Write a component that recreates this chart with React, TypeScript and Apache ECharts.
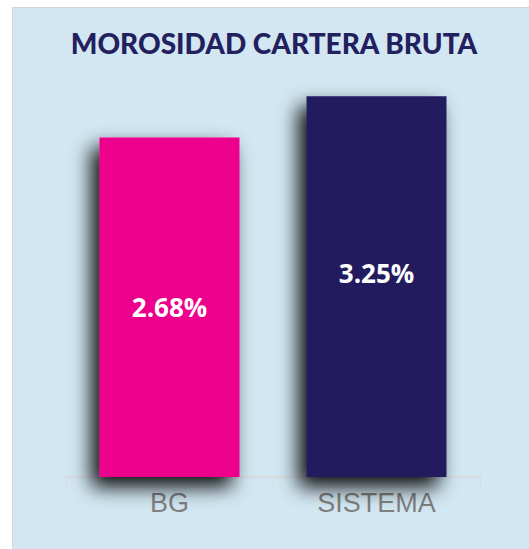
import React, { useEffect, useRef } from "react";
import * as echarts from "echarts";

const title = "MOROSIDAD CARTERA BRUTA";
const categories = ["BG", "SISTEMA"];
const values = [2.68, 3.25];
const barColors = ["#EC008C", "#221E5F"];
const labelOffsets = [[0, 0], [0, -14]];

export default function App() {
  const ref = useRef<HTMLDivElement>(null);
  useEffect(() => {
    if (!ref.current) return;
    const chart = echarts.init(ref.current, undefined, { renderer: "svg" });
    chart.setOption({
      animation: false,
      backgroundColor: "#ffffff",
      graphic: [
        {
          type: "rect",
          z: -10,
          shape: { x: 12.5, y: 7.5, width: 530, height: 550 },
          style: { fill: "#D2E7F2", stroke: "#D4D4D4", lineWidth: 1 },
        },
        {
          type: "text",
          x: 274,
          y: 43,
          style: {
            text: title,
            fill: "#23205E",
            font: "900 28px Lato",
            align: "center",
            verticalAlign: "middle",
          },
        },
      ],
      grid: { left: 66, right: 49, top: 78, bottom: 72 },
      xAxis: {
        type: "category",
        data: categories,
        axisLine: { onZero: false, lineStyle: { color: "#D9D9D9", width: 1.5 } },
        axisTick: { show: true, length: 10, lineStyle: { color: "#D9D9D9" } },
        axisLabel: {
          color: "#7F7F7F",
          fontFamily: "Liberation Sans",
          fontSize: 27,
          margin: 12,
        },
      },
      yAxis: {
        type: "value",
        min: -2,
        max: 3.5,
        startValue: -2,
        show: false,
        splitLine: { show: false },
      },
      series: [
        {
          type: "bar",
          barWidth: 140,
          data: values.map((v, i) => ({
            value: v,
            itemStyle: { color: barColors[i] },
            label: { offset: labelOffsets[i] },
          })),
          itemStyle: {
            shadowColor: "rgba(0,0,0,0.95)",
            shadowBlur: 20,
            shadowOffsetX: -8,
            shadowOffsetY: 10,
          },
          label: {
            show: true,
            position: "inside",
            formatter: (p: any) => p.value.toFixed(2) + "%",
            color: "#ffffff",
            fontFamily: "Open Sans",
            fontWeight: "bold",
            fontSize: 26,
          },
        },
      ],
    });
    return () => chart.dispose();
  }, []);
  return (
    <div
      ref={ref}
      style={{ position: "fixed", left: 0, top: 0, width: 529, height: 549 }}
    />
  );
}
